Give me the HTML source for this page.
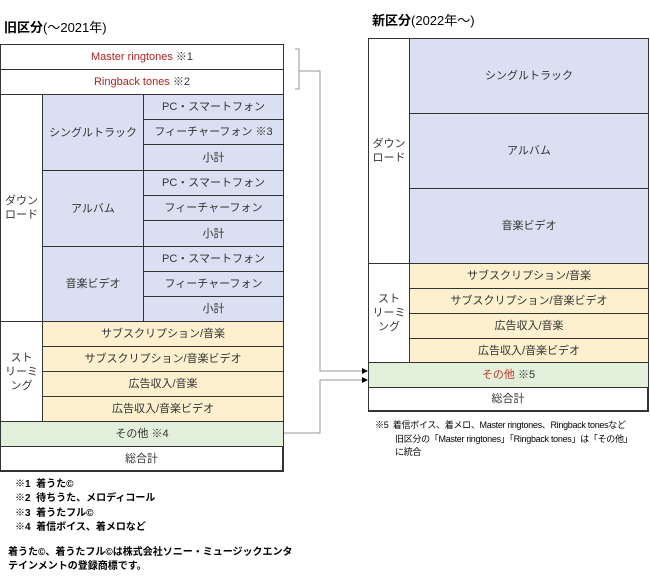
<!DOCTYPE html>
<html><head><meta charset="utf-8"><style>
body{margin:0;width:650px;height:580px;background:#fff;position:relative;font-family:"Liberation Sans","Noto Sans CJK JP",sans-serif;color:#333;overflow:hidden}
.c{position:absolute;box-sizing:border-box;border:1px solid #333;display:flex;align-items:center;justify-content:center;font-size:11px;text-align:center;line-height:14px}
.b{background:#dae0f1}.y{background:#fdf0cf}.g{background:#e2efda}.w{background:#fff}
.r{color:#b22222}
.t{position:absolute;font-size:13px;color:#000}
.n{position:absolute;font-size:10px;color:#000;line-height:13.5px;white-space:nowrap;font-weight:bold}
</style></head><body>
<div class="t" style="left:4px;top:17px"><b>旧区分</b>(～2021年)</div>
<div class="t" style="left:372px;top:10px"><b>新区分</b>(2022年～)</div>

<div class="c w r" style="left:0;top:44px;width:284px;height:26px">Master ringtones <span style="color:#333">&nbsp;※1</span></div>
<div class="c w r" style="left:0;top:69px;width:284px;height:26px">Ringback tones <span style="color:#333">&nbsp;※2</span></div>
<div class="c w" style="left:0;top:94px;width:43px;height:228px">ダウン<br>ロード</div>
<div class="c b" style="left:42px;top:94px;width:102px;height:77px">シングルトラック</div>
<div class="c b" style="left:42px;top:170px;width:102px;height:77px">アルバム</div>
<div class="c b" style="left:42px;top:246px;width:102px;height:76px">音楽ビデオ</div>
<div class="c b" style="left:143px;top:94px;width:141px;height:26px">PC・スマートフォン</div>
<div class="c b" style="left:143px;top:119px;width:141px;height:26px">フィーチャーフォン ※3</div>
<div class="c b" style="left:143px;top:144px;width:141px;height:27px">小計</div>
<div class="c b" style="left:143px;top:170px;width:141px;height:26px">PC・スマートフォン</div>
<div class="c b" style="left:143px;top:195px;width:141px;height:26px">フィーチャーフォン</div>
<div class="c b" style="left:143px;top:220px;width:141px;height:27px">小計</div>
<div class="c b" style="left:143px;top:246px;width:141px;height:26px">PC・スマートフォン</div>
<div class="c b" style="left:143px;top:271px;width:141px;height:26px">フィーチャーフォン</div>
<div class="c b" style="left:143px;top:296px;width:141px;height:26px">小計</div>
<div class="c w" style="left:0;top:321px;width:43px;height:101px">スト<br>リーミ<br>ング</div>
<div class="c y" style="left:42px;top:321px;width:242px;height:26px">サブスクリプション/音楽</div>
<div class="c y" style="left:42px;top:346px;width:242px;height:26px">サブスクリプション/音楽ビデオ</div>
<div class="c y" style="left:42px;top:371px;width:242px;height:26px">広告収入/音楽</div>
<div class="c y" style="left:42px;top:396px;width:242px;height:26px">広告収入/音楽ビデオ</div>
<div class="c g" style="left:0;top:421px;width:284px;height:26px">その他 ※4</div>
<div class="c w" style="left:0;top:446px;width:284px;height:26px;border-width:1px 2px 2px 1px">総合計</div>

<div class="c w" style="left:368px;top:38px;width:42px;height:226px">ダウン<br>ロード</div>
<div class="c b" style="left:409px;top:38px;width:240px;height:76px">シングルトラック</div>
<div class="c b" style="left:409px;top:113px;width:240px;height:76px">アルバム</div>
<div class="c b" style="left:409px;top:188px;width:240px;height:76px">音楽ビデオ</div>
<div class="c w" style="left:368px;top:263px;width:42px;height:100px">スト<br>リーミ<br>ング</div>
<div class="c y" style="left:409px;top:263px;width:240px;height:26px">サブスクリプション/音楽</div>
<div class="c y" style="left:409px;top:288px;width:240px;height:26px">サブスクリプション/音楽ビデオ</div>
<div class="c y" style="left:409px;top:313px;width:240px;height:26px">広告収入/音楽</div>
<div class="c y" style="left:409px;top:338px;width:240px;height:25px">広告収入/音楽ビデオ</div>
<div class="c g" style="left:368px;top:362px;width:281px;height:26px"><span style="color:#c0392b">その他</span>&nbsp;※5</div>
<div class="c w" style="left:368px;top:387px;width:281px;height:25px;border-width:1px 2px 2px 1px">総合計</div>

<svg style="position:absolute;left:0;top:0" width="650" height="580">
<g fill="none" stroke="#999" stroke-width="1">
<polyline points="295,49 299,49 299,89 295,89"/>
<polyline points="299,71 320,71 320,371 362,371"/>
<polyline points="284,433 320,433 320,380 362,380"/>
</g>
<polygon points="362,368 368,371 362,374" fill="#000"/>
<polygon points="362,377 368,380 362,383" fill="#000"/>
</svg>

<div class="n" style="left:15px;top:478px;line-height:14.3px">※1&nbsp; 着うた©<br>※2&nbsp; 待ちうた、メロディコール<br>※3&nbsp; 着うたフル©<br>※4&nbsp; 着信ボイス、着メロなど</div>
<div class="n" style="left:8px;top:546px">着うた©、着うたフル©は株式会社ソニー・ミュージックエンタ<br>テインメントの登録商標です。</div>
<div class="n" style="left:375px;top:419px;font-size:9px;letter-spacing:-0.3px;font-weight:normal">※5&nbsp; 着信ボイス、着メロ、Master ringtones、Ringback tonesなど<br><span style="padding-left:20px">旧区分の「Master ringtones」「Ringback tones」は「その他」</span><br><span style="padding-left:20px">に統合</span></div>
</body></html>
